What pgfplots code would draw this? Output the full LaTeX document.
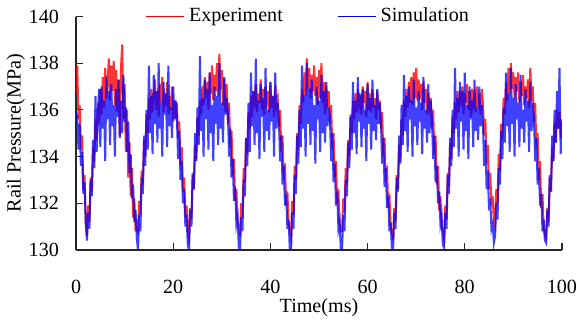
\documentclass[border=0pt]{standalone}
\usepackage{fontspec}
\setmainfont{Liberation Serif}
\usepackage{pgfplots}
\usepackage{pgfplotstable}
\pgfplotsset{compat=1.18}
\pgfplotstableread[row sep=\\]{y\\
136.7\\137.9\\135.6\\136.2\\134.3\\134.9\\132.6\\133.2\\131.1\\
130.6\\131.9\\131.2\\133.1\\132.5\\134.4\\133.8\\135.6\\134.7\\136.3\\135.4\\136.9\\135.8\\137.4\\136.1\\137.8\\136.5\\137.2\\138.2\\136.4\\137.9\\136.8\\138.1\\136.2\\137.7\\135.9\\137.3\\134.9\\137.8\\138.8\\135.6\\137.1\\134.2\\136.0\\133.1\\134.6\\132.3\\133.5\\131.4\\132.2\\130.8\\131.3\\
130.7\\132.1\\131.5\\133.4\\132.8\\134.7\\134.0\\135.8\\135.0\\136.5\\135.6\\136.9\\135.9\\136.6\\137.3\\136.0\\136.8\\135.7\\137.1\\136.3\\137.4\\135.9\\136.7\\136.2\\137.2\\135.8\\136.6\\136.0\\137.0\\135.5\\136.4\\135.9\\136.3\\134.8\\135.5\\133.6\\134.4\\132.5\\133.1\\131.4\\131.9\\130.8\\
130.5\\131.8\\131.3\\133.2\\132.6\\134.5\\133.9\\135.7\\134.9\\136.4\\135.8\\137.0\\136.2\\137.4\\136.5\\137.2\\136.0\\137.6\\136.7\\137.9\\136.4\\137.5\\136.8\\138.0\\136.6\\138.4\\136.9\\137.7\\136.2\\137.3\\135.9\\137.1\\135.4\\136.3\\134.4\\135.1\\133.2\\133.9\\132.1\\132.6\\131.2\\131.0\\
130.6\\132.0\\131.4\\133.5\\132.9\\134.8\\134.1\\135.9\\135.2\\136.6\\135.7\\136.8\\136.1\\137.1\\135.9\\136.7\\136.3\\137.3\\136.0\\136.9\\135.8\\137.0\\136.4\\136.8\\135.9\\137.2\\136.1\\136.6\\135.7\\137.0\\136.2\\136.5\\135.3\\136.0\\134.2\\134.9\\133.0\\133.7\\131.9\\132.5\\131.1\\130.9\\
130.6\\132.1\\131.5\\133.6\\133.0\\135.0\\134.3\\136.2\\135.4\\136.9\\136.3\\137.6\\136.6\\138.2\\136.9\\137.8\\136.5\\137.5\\136.8\\137.9\\136.6\\137.4\\136.2\\137.7\\136.5\\138.0\\136.3\\137.2\\135.8\\137.0\\136.1\\136.8\\135.4\\136.2\\134.3\\135.0\\133.1\\133.8\\132.0\\132.6\\131.1\\130.8\\
130.8\\132.2\\131.6\\133.5\\132.8\\134.7\\134.0\\135.7\\135.0\\136.4\\135.6\\136.7\\135.9\\136.9\\136.2\\136.6\\135.8\\137.0\\136.3\\136.8\\135.7\\137.2\\136.0\\136.7\\135.9\\136.9\\136.1\\136.5\\135.6\\136.8\\136.0\\136.4\\135.2\\135.9\\134.0\\134.8\\132.9\\133.6\\131.8\\132.4\\131.0\\130.8\\
130.4\\131.8\\131.2\\133.2\\132.6\\134.5\\133.8\\135.6\\134.9\\136.4\\135.7\\136.9\\136.1\\137.2\\136.3\\137.4\\136.2\\137.6\\136.5\\137.8\\136.4\\137.3\\136.7\\137.1\\136.0\\137.2\\136.3\\136.9\\135.8\\136.7\\136.1\\136.5\\135.2\\136.0\\134.1\\134.9\\132.8\\133.6\\131.7\\132.3\\131.0\\130.8\\
130.5\\131.9\\131.3\\133.3\\132.7\\134.6\\133.9\\135.7\\135.0\\136.3\\135.6\\136.8\\135.9\\136.6\\136.2\\137.0\\135.8\\136.7\\136.3\\137.1\\136.0\\136.8\\135.7\\136.9\\136.2\\136.6\\135.9\\137.0\\136.1\\136.7\\135.8\\136.9\\136.3\\134.9\\135.6\\133.7\\134.5\\132.6\\133.3\\131.9\\132.3\\131.2\\
131.0\\132.6\\132.0\\134.1\\133.4\\135.4\\134.7\\136.5\\135.8\\137.2\\136.4\\137.8\\136.7\\138.0\\136.9\\137.6\\136.5\\137.4\\136.8\\137.6\\136.3\\137.2\\136.6\\137.5\\136.2\\137.0\\136.5\\137.3\\136.1\\137.8\\136.4\\137.0\\135.5\\136.3\\134.3\\135.0\\133.0\\133.8\\131.8\\132.4\\130.9\\130.6\\
130.5\\131.8\\131.2\\133.1\\132.5\\134.4\\133.8\\135.5\\134.6\\136.0\\135.2\\135.9\\134.8\\135.6\\
}\expdata
\pgfplotstableread[row sep=\\]{y\\
135.9\\135.7\\134.3\\135.4\\133.6\\134.2\\132.4\\132.9\\131.2\\
130.4\\131.6\\130.9\\133.0\\132.3\\134.7\\133.5\\136.6\\134.2\\135.9\\136.9\\134.4\\137.0\\135.2\\136.4\\133.8\\137.4\\135.6\\136.8\\134.5\\137.1\\135.3\\136.2\\134.0\\136.9\\135.7\\137.3\\134.8\\136.4\\135.0\\137.5\\135.5\\136.1\\134.2\\135.5\\133.3\\134.1\\132.2\\132.8\\131.2\\131.7\\130.5\\
130.0\\131.5\\130.8\\133.1\\132.4\\134.9\\133.6\\136.0\\134.3\\137.9\\135.0\\136.6\\134.1\\137.5\\135.4\\136.8\\134.6\\138.0\\135.2\\136.3\\134.0\\137.2\\135.8\\136.7\\134.4\\137.9\\135.3\\136.1\\134.8\\137.0\\135.6\\136.4\\135.8\\133.9\\135.1\\133.0\\133.8\\132.0\\132.6\\131.0\\131.5\\130.2\\
130.0\\131.7\\131.0\\133.3\\132.6\\135.0\\133.8\\136.1\\134.5\\138.3\\135.1\\136.5\\134.0\\137.3\\135.6\\136.9\\134.3\\137.6\\135.0\\136.2\\133.8\\137.0\\135.4\\136.6\\134.5\\138.0\\135.2\\136.3\\134.6\\137.4\\135.8\\136.5\\135.9\\134.0\\135.2\\133.1\\133.9\\132.1\\132.7\\131.1\\131.4\\130.1\\
130.0\\131.4\\130.8\\133.0\\132.3\\134.8\\133.6\\136.3\\134.2\\137.6\\135.3\\136.8\\134.5\\138.2\\135.0\\136.4\\133.9\\137.1\\135.7\\136.5\\134.2\\137.8\\135.1\\136.0\\134.7\\137.2\\135.5\\136.6\\134.0\\137.6\\135.2\\136.3\\135.6\\133.8\\134.9\\132.8\\133.6\\131.9\\132.4\\130.9\\131.3\\130.0\\
130.0\\131.6\\130.9\\133.2\\132.4\\134.9\\133.7\\136.0\\134.4\\137.9\\135.2\\136.6\\134.0\\138.0\\135.4\\136.9\\134.5\\137.3\\135.1\\136.2\\133.7\\137.0\\135.6\\136.4\\134.2\\137.5\\135.0\\136.8\\134.6\\137.2\\135.3\\136.1\\135.7\\133.8\\135.0\\132.9\\133.7\\131.9\\132.5\\130.9\\131.2\\130.0\\
130.0\\131.5\\130.8\\133.0\\132.3\\134.6\\133.5\\135.8\\134.3\\137.2\\135.0\\136.4\\134.1\\137.4\\135.5\\136.7\\134.4\\136.9\\135.2\\136.0\\133.8\\137.1\\135.4\\136.5\\134.3\\137.3\\135.1\\136.2\\134.7\\136.9\\135.4\\136.3\\135.5\\133.7\\134.8\\132.7\\133.5\\131.8\\132.3\\130.8\\131.2\\130.1\\
130.0\\131.6\\130.9\\133.1\\132.5\\134.9\\133.7\\136.2\\134.5\\137.5\\135.1\\136.6\\134.2\\137.0\\135.6\\136.4\\134.0\\137.3\\135.3\\136.1\\134.5\\136.8\\135.5\\136.3\\134.1\\137.4\\135.2\\136.0\\134.6\\137.1\\135.0\\136.4\\135.6\\133.9\\134.9\\132.9\\133.6\\132.0\\132.5\\131.1\\131.4\\130.2\\
130.1\\131.6\\130.9\\133.2\\132.4\\134.8\\133.6\\136.0\\134.4\\137.8\\135.2\\136.5\\134.0\\137.2\\135.5\\136.8\\134.3\\137.6\\135.1\\136.2\\133.9\\137.0\\135.6\\136.4\\134.4\\137.3\\135.1\\136.1\\134.7\\137.0\\135.3\\136.2\\135.4\\133.6\\134.7\\132.6\\133.4\\131.7\\132.2\\130.9\\131.1\\130.3\\
130.6\\132.0\\131.3\\133.5\\132.8\\135.1\\133.9\\136.1\\134.6\\137.6\\135.3\\136.7\\134.2\\137.8\\135.4\\136.5\\134.0\\137.1\\135.6\\136.3\\134.4\\137.5\\135.2\\136.0\\134.6\\136.9\\135.5\\136.4\\134.2\\137.2\\135.1\\136.3\\135.6\\133.8\\134.8\\132.8\\133.5\\131.9\\132.4\\130.8\\131.3\\130.4\\
130.3\\131.7\\131.0\\133.2\\132.5\\134.9\\133.8\\136.0\\134.6\\136.8\\135.2\\137.8\\134.1\\135.5\\
}\simdata
\begin{document}
\begin{tikzpicture}
\begin{axis}[
  scale only axis,
  width=241.5pt, height=116pt,
  xmin=0, xmax=100, ymin=130, ymax=140,
  axis x line=bottom, axis y line=left,
  axis line style={-, black!85, line width=0.6pt},
  xtick={0,20,40,60,80,100},
  ytick={130,132,134,136,138,140},
  tick align=inside,
  major tick length=3.5pt,
  tick style={black!85, line width=0.6pt},
  /pgf/number format/assume math mode=true,
  ticklabel style={font=\normalsize},
  xticklabel style={yshift=-11.5pt, inner xsep=1pt},
  yticklabel style={xshift=-5pt},
  xlabel={Time(ms)},
  ylabel={Rail Pressure(MPa)},
  xlabel style={yshift=4.5pt},
  ylabel style={yshift=-5pt},
  legend columns=2,
  legend style={at={(axis description cs:0.48,1)}, anchor=center, draw=none, fill=none,
    font=\normalsize, /tikz/every even column/.append style={column sep=25pt}},
  legend image code/.code={\draw[#1, line width=0.6pt, opacity=1] (0pt,0pt) -- (19pt,0pt);},
  clip=true,
]
\addplot[red, line width=1pt, opacity=0.8] table[x expr=\coordindex*0.25, y=y]{\expdata};
\addlegendentry{Experiment}
\addplot[blue, line width=1pt, opacity=0.75] table[x expr=\coordindex*0.25, y=y]{\simdata};
\addlegendentry{Simulation}
\end{axis}
\end{tikzpicture}
\end{document}
